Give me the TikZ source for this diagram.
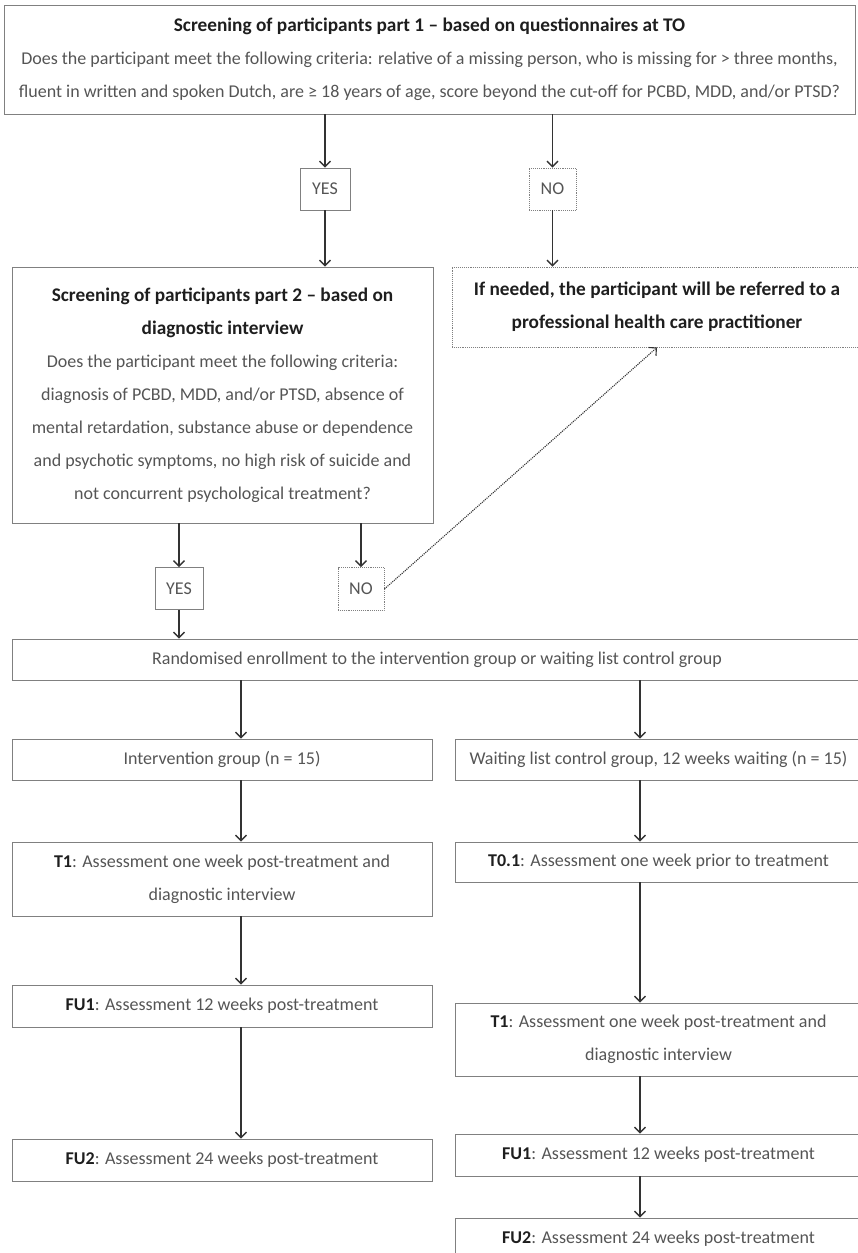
\documentclass[tikz,border=0pt]{standalone}
\usepackage{fontspec}
\setmainfont{Carlito}
\usetikzlibrary{arrows,arrows.meta,positioning}
\definecolor{boxgray}{HTML}{808080}
\definecolor{textgray}{HTML}{555555}
\definecolor{headgray}{HTML}{1E1E1E}
\definecolor{arrowgray}{HTML}{333333}
\newcommand{\hd}[1]{\textcolor{headgray}{\bfseries #1}}
\newcommand{\hdline}[1]{\textcolor{headgray}{\fontsize{19.3}{33}\selectfont\bfseries #1}}

\begin{document}
\begin{tikzpicture}[x=1pt,y=-1pt,
    >={Straight Barb[length=5.5pt,width=11pt]},
    box/.style={draw=boxgray, line width=0.9pt, inner sep=0pt, align=center,
        text=textgray, font=\fontsize{18}{33}\selectfont},
    dotbox/.style={box, densely dotted},
    arr/.style={->, line width=1.3pt, draw=arrowgray}]
    \clip (0,0) rectangle (858,1253);

    % Screening part 1
    \node[box, minimum width=851, minimum height=109] (scr1) at (429.5,59.5)
        {\hdline{Screening of participants part 1 -- based on questionnaires at TO}\\
         Does the participant meet the following criteria: relative of a missing person, who is missing for > three months,\\
         fluent in written and spoken Dutch, are ≥ 18 years of age, score beyond the cut-off for PCBD, MDD, and/or PTSD?};
    \node[box, minimum width=50, minimum height=42] (yes1) at (325,189) {YES};
    \node[dotbox, minimum width=47, minimum height=42] (no1) at (552.5,189) {NO};

    % Screening part 2 and referral
    \node[box, minimum width=421, minimum height=256] (scr2) at (222.5,395)
        {\hdline{Screening of participants part 2 -- based on}\\
         \hdline{diagnostic interview}\\
         Does the participant meet the following criteria:\\
         diagnosis of PCBD, MDD, and/or PTSD, absence of\\
         mental retardation, substance abuse or dependence\\
         and psychotic symptoms, no high risk of suicide and\\
         not concurrent psychological treatment?};
    \node[dotbox, minimum width=410, minimum height=80] (refer) at (657,307)
        {\hdline{If needed, the participant will be referred to a}\\
         \hdline{professional health care practitioner}};
    \node[box, minimum width=48, minimum height=42] (yes2) at (179,588.5) {YES};
    \node[dotbox, minimum width=46, minimum height=43] (no2) at (361,589) {NO};

    % Randomisation
    \node[box, minimum width=850, minimum height=41] (rand) at (437,659.5)
        {Randomised enrollment to the intervention group or waiting list control group};

    % Intervention group
    \node[box, minimum width=420, minimum height=41] (interv) at (222,759.5) {Intervention group (n = 15)};
    \node[box, minimum width=420, minimum height=74] (t1a) at (222,879)
        {\hd{T1}: Assessment one week post-treatment and\\ diagnostic interview};
    \node[box, minimum width=420, minimum height=42] (fu1a) at (222,1006)
        {\hd{FU1}: Assessment 12 weeks post-treatment};
    \node[box, minimum width=420, minimum height=42] (fu2a) at (222,1160)
        {\hd{FU2}: Assessment 24 weeks post-treatment};

    % Waiting list group
    \node[box, minimum width=407, minimum height=41] (wait) at (658.5,759.5)
        {Waiting list control group, 12 weeks waiting (n = 15)};
    \node[box, minimum width=407, minimum height=40] (t01) at (658.5,862)
        {\hd{T0.1}: Assessment one week prior to treatment};
    \node[box, minimum width=407, minimum height=73] (t1b) at (658.5,1039.5)
        {\hd{T1}: Assessment one week post-treatment and\\ diagnostic interview};
    \node[box, minimum width=407, minimum height=42] (fu1b) at (658.5,1155)
        {\hd{FU1}: Assessment 12 weeks post-treatment};
    \node[box, minimum width=407, minimum height=42] (fu2b) at (658.5,1239)
        {\hd{FU2}: Assessment 24 weeks post-treatment};

    % Arrows
    \draw[arr] (yes1.north |- scr1.south) -- (yes1.north);
    \draw[arr] (no1.north |- scr1.south) -- (no1.north);
    \draw[arr] (yes1.south) -- (yes1.south |- scr2.north);
    \draw[arr] (no1.south) -- (no1.south |- refer.north);
    \draw[arr] (yes2.north |- scr2.south) -- (yes2.north);
    \draw[arr] (no2.north |- scr2.south) -- (no2.north);
    \draw[->, densely dotted, line width=1.1pt, draw=arrowgray] (no2.east) -- (refer.south);
    \draw[arr] (yes2.south) -- (yes2.south |- rand.north);
    \draw[arr] ([xshift=19pt]interv.north |- rand.south) -- ([xshift=19pt]interv.north);
    \draw[arr] ([xshift=-18.5pt]wait.north |- rand.south) -- ([xshift=-18.5pt]wait.north);
    \draw[arr] ([xshift=19pt]interv.south) -- ([xshift=19pt]t1a.north);
    \draw[arr] ([xshift=19pt]t1a.south) -- ([xshift=19pt]fu1a.north);
    \draw[arr] ([xshift=19pt]fu1a.south) -- ([xshift=19pt]fu2a.north);
    \draw[arr] ([xshift=-18.5pt]wait.south) -- ([xshift=-18.5pt]t01.north);
    \draw[arr] ([xshift=-18.5pt]t01.south) -- ([xshift=-18.5pt]t1b.north);
    \draw[arr] ([xshift=-18.5pt]t1b.south) -- ([xshift=-18.5pt]fu1b.north);
    \draw[arr] ([xshift=-18.5pt]fu1b.south) -- ([xshift=-18.5pt]fu2b.north);
\end{tikzpicture}
\end{document}
